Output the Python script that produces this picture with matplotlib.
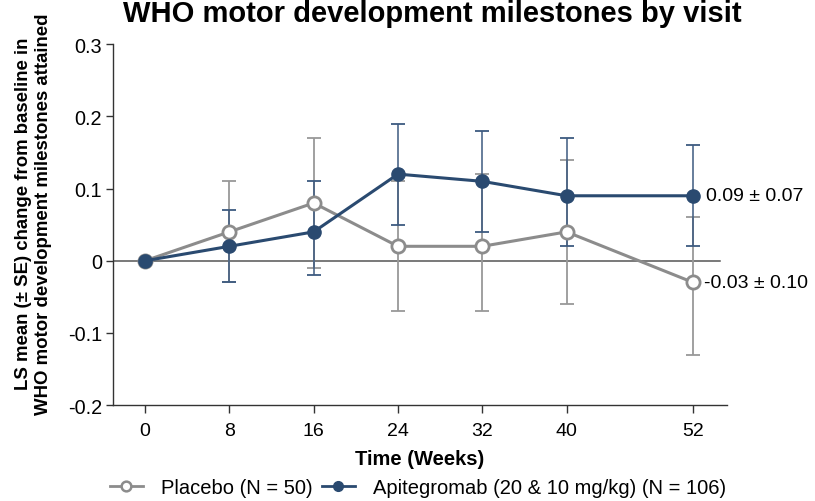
import matplotlib
matplotlib.use("Agg")
import matplotlib.pyplot as plt
from matplotlib.lines import Line2D
import numpy as np

plt.rcParams['font.family'] = ['Liberation Sans', 'DejaVu Sans']

weeks = [0, 8, 16, 24, 32, 40, 52]
placebo = [0.0, 0.04, 0.08, 0.02, 0.02, 0.04, -0.03]
placebo_lo = [0.0, -0.03, -0.01, -0.07, -0.07, -0.06, -0.13]
placebo_hi = [0.0, 0.11, 0.17, 0.11, 0.12, 0.14, 0.06]
apit = [0.0, 0.02, 0.04, 0.12, 0.11, 0.09, 0.09]
apit_lo = [0.0, -0.03, -0.02, 0.05, 0.04, 0.02, 0.02]
apit_hi = [0.0, 0.07, 0.11, 0.19, 0.18, 0.17, 0.16]
yticks = [-0.2, -0.1, 0, 0.1, 0.2, 0.3]
yticklabels = ['-0.2', '-0.1', '0', '0.1', '0.2', '0.3']
end_labels = ['0.09 ± 0.07', '-0.03 ± 0.10']
series_names = ['Placebo (N = 50)', 'Apitegromab (20 & 10 mg/kg) (N = 106)']

gray = '#8c8c8c'
blue = '#2a4a70'

fig = plt.figure(figsize=(8.15, 5.02), dpi=100)
ax = fig.add_axes([0.1387, 0.191, 0.753, 0.719])

ax.axhline(0, color='#555555', lw=1.1, xmin=0, xmax=(54.6 + 3.04) / (55.2 + 3.04), zorder=1)

def err(v, lo, hi):
    v = np.array(v); return [v - np.array(lo), np.array(hi) - v]

x = np.array(weeks)
mask = x > 0
ax.errorbar(x[mask], np.array(placebo)[mask],
            yerr=[e[mask] for e in err(placebo, placebo_lo, placebo_hi)],
            fmt='none', ecolor='#999999', elinewidth=1.3, capsize=5, capthick=1.3, zorder=2)
ax.errorbar(x[mask], np.array(apit)[mask],
            yerr=[e[mask] for e in err(apit, apit_lo, apit_hi)],
            fmt='none', ecolor='#3d5a80', elinewidth=1.1, capsize=5, capthick=1.3, zorder=2)

ax.plot(weeks, placebo, color=gray, lw=2.2, marker='o', ms=9.5, mfc='white',
        mec=gray, mew=2, zorder=3)
ax.plot(weeks, apit, color=blue, lw=2.2, marker='o', ms=9.5, mfc=blue,
        mec=blue, zorder=4)

ax.text(53.2, apit[-1], end_labels[0], fontsize=14, va='center', ha='left')
ax.text(53.0, placebo[-1], end_labels[1], fontsize=14, va='center', ha='left')

ax.set_xlim(-3.04, 55.2)
ax.set_ylim(-0.2, 0.3)
ax.set_xticks(weeks)
ax.set_xticklabels([str(w) for w in weeks], fontsize=14)
ax.set_yticks(yticks)
ax.set_yticklabels(yticklabels, fontsize=14.3)
ax.tick_params(axis='x', direction='out', length=6, width=1, color='#333333', pad=6)
ax.tick_params(axis='y', direction='out', length=5, width=1, color='#333333', pad=3)
for s in ['top', 'right']:
    ax.spines[s].set_visible(False)
for s in ['left', 'bottom']:
    ax.spines[s].set_color('#333333')
    ax.spines[s].set_linewidth(1)

ax.set_xlabel('Time (Weeks)', fontsize=14.5, fontweight='bold', labelpad=7)
fig.text(33.5 / 815, 1 - 214 / 502,
         'LS mean (± SE) change from baseline in\nWHO motor development milestones attained',
         fontsize=13.4, fontweight='bold', rotation=90, ha='center', va='center',
         linespacing=1.2)

fig.text(0.53, 1.0, 'WHO motor development milestones by visit', fontsize=21,
         fontweight='bold', ha='center', va='top')

h1 = Line2D([0], [0], color=gray, lw=2, marker='o', ms=7, mfc='white', mec=gray, mew=1.8)
h2 = Line2D([0], [0], color=blue, lw=2, marker='o', ms=7, mfc=blue, mec=blue)
fig.legend(handles=[h1, h2], labels=series_names, loc='center',
           bbox_to_anchor=(0.513, 0.026), ncol=2,
           frameon=False, fontsize=14.5, handlelength=1.6, columnspacing=0.5,
           handletextpad=0.9, borderaxespad=0)

fig.savefig('out.png', dpi=100)
